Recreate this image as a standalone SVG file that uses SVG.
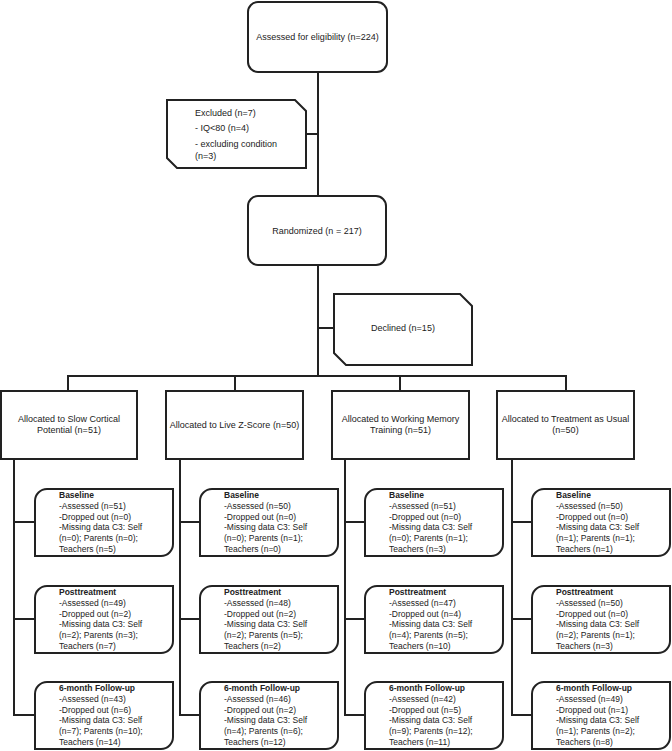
<svg xmlns="http://www.w3.org/2000/svg" xmlns:xlink="http://www.w3.org/1999/xlink" width="672" height="751" viewBox="0 0 672 751">
<style>
.box{fill:#fff;stroke:#222;stroke-width:2}
.ln{fill:none;stroke:#222;stroke-width:2}
.t{font-family:"Liberation Sans",Arial,sans-serif;font-size:9px;fill:#222}
.c{text-anchor:middle}
.s{font-family:"Liberation Sans",Arial,sans-serif;font-size:8.5px;fill:#222}
.b{font-weight:bold}
</style>
<defs>
<path id="sub" class="box" d="M12,0 H138 V55 A12,12 0 0 1 126,67 H0 V12 A12,12 0 0 1 12,0 Z"/>
</defs>
<rect width="672" height="751" fill="#fff"/>
<g id="connectors" class="ln">
<path d="M318,72 V196"/>
<path d="M306,134 H318"/>
<path d="M318,265 V376"/>
<path d="M318,328 H334"/>
<path d="M68,391 V376 H566 V391"/>
<path d="M235,376 V391"/>
<path d="M400,376 V391"/>
<path d="M14,459 V715 H35 M14,522 H35 M14,619 H35"/>
<path d="M180,459 V715 H200 M180,522 H200 M180,619 H200"/>
<path d="M345,459 V715 H365 M345,522 H365 M345,619 H365"/>
<path d="M512,459 V715 H532 M512,522 H532 M512,619 H532"/>
</g>
<g id="assessed">
<rect class="box" x="248" y="2" width="139" height="70" rx="10"/>
<text class="t c" x="317.5" y="40">Assessed for eligibility (n=224)</text>
</g>
<g id="excluded">
<path class="box" d="M167,100 H295 L306,111 V168 H177 L167,158 Z"/>
<text class="t" x="195" y="116">Excluded (n=7)</text>
<text class="t" x="195" y="131">- IQ&lt;80 (n=4)</text>
<text class="t" x="195" y="147">- excluding condition</text>
<text class="t" x="195" y="159">(n=3)</text>
</g>
<g id="randomized">
<rect class="box" x="248" y="196" width="138" height="69" rx="10"/>
<text class="t c" x="317" y="234">Randomized (n = 217)</text>
</g>
<g id="declined">
<path class="box" d="M334,294 H460 L472,306 V365 H346 L334,353 Z"/>
<text class="t c" x="403" y="331">Declined (n=15)</text>
</g>
<g id="alloc1">
<rect class="box" x="1" y="391" width="136" height="68"/>
<text class="t c" x="69" y="422">Allocated to Slow Cortical</text>
<text class="t c" x="69" y="433">Potential (n=51)</text>
</g>
<g id="alloc2">
<rect class="box" x="166" y="391" width="137" height="68"/>
<text class="t c" x="234.5" y="428">Allocated to Live Z-Score (n=50)</text>
</g>
<g id="alloc3">
<rect class="box" x="332" y="391" width="137" height="68"/>
<text class="t c" x="400.5" y="422">Allocated to Working Memory</text>
<text class="t c" x="400.5" y="433">Training (n=51)</text>
</g>
<g id="alloc4">
<rect class="box" x="497" y="391" width="137" height="68"/>
<text class="t c" x="565.5" y="422">Allocated to Treatment as Usual</text>
<text class="t c" x="565.5" y="433">(n=50)</text>
</g>

<g id="base1" transform="translate(35,489)">
<use xlink:href="#sub"/>
<text class="s" x="24" y="9"><tspan class="b">Baseline</tspan><tspan x="24" dy="10.8">-Assessed (n=51)</tspan><tspan x="24" dy="10.8">-Dropped out (n=0)</tspan><tspan x="24" dy="10.8">-Missing data C3: Self</tspan><tspan x="24" dy="10.8">(n=0); Parents (n=0);</tspan><tspan x="24" dy="10.8">Teachers (n=5)</tspan></text>
</g>
<g id="post1" transform="translate(35,586)">
<use xlink:href="#sub"/>
<text class="s" x="24" y="9"><tspan class="b">Posttreatment</tspan><tspan x="24" dy="10.8">-Assessed (n=49)</tspan><tspan x="24" dy="10.8">-Dropped out (n=2)</tspan><tspan x="24" dy="10.8">-Missing data C3: Self</tspan><tspan x="24" dy="10.8">(n=2); Parents (n=3);</tspan><tspan x="24" dy="10.8">Teachers (n=7)</tspan></text>
</g>
<g id="fu1" transform="translate(35,682)">
<use xlink:href="#sub"/>
<text class="s" x="24" y="9"><tspan class="b">6-month Follow-up</tspan><tspan x="24" dy="10.8">-Assessed (n=43)</tspan><tspan x="24" dy="10.8">-Dropped out (n=6)</tspan><tspan x="24" dy="10.8">-Missing data C3: Self</tspan><tspan x="24" dy="10.8">(n=7); Parents (n=10);</tspan><tspan x="24" dy="10.8">Teachers (n=14)</tspan></text>
</g>

<g id="base2" transform="translate(200,489)">
<use xlink:href="#sub"/>
<text class="s" x="24" y="9"><tspan class="b">Baseline</tspan><tspan x="24" dy="10.8">-Assessed (n=50)</tspan><tspan x="24" dy="10.8">-Dropped out (n=0)</tspan><tspan x="24" dy="10.8">-Missing data C3: Self</tspan><tspan x="24" dy="10.8">(n=0); Parents (n=1);</tspan><tspan x="24" dy="10.8">Teachers (n=0)</tspan></text>
</g>
<g id="post2" transform="translate(200,586)">
<use xlink:href="#sub"/>
<text class="s" x="24" y="9"><tspan class="b">Posttreatment</tspan><tspan x="24" dy="10.8">-Assessed (n=48)</tspan><tspan x="24" dy="10.8">-Dropped out (n=2)</tspan><tspan x="24" dy="10.8">-Missing data C3: Self</tspan><tspan x="24" dy="10.8">(n=2); Parents (n=5);</tspan><tspan x="24" dy="10.8">Teachers (n=2)</tspan></text>
</g>
<g id="fu2" transform="translate(200,682)">
<use xlink:href="#sub"/>
<text class="s" x="24" y="9"><tspan class="b">6-month Follow-up</tspan><tspan x="24" dy="10.8">-Assessed (n=46)</tspan><tspan x="24" dy="10.8">-Dropped out (n=2)</tspan><tspan x="24" dy="10.8">-Missing data C3: Self</tspan><tspan x="24" dy="10.8">(n=4); Parents (n=6);</tspan><tspan x="24" dy="10.8">Teachers (n=12)</tspan></text>
</g>

<g id="base3" transform="translate(365,489)">
<use xlink:href="#sub"/>
<text class="s" x="24" y="9"><tspan class="b">Baseline</tspan><tspan x="24" dy="10.8">-Assessed (n=51)</tspan><tspan x="24" dy="10.8">-Dropped out (n=0)</tspan><tspan x="24" dy="10.8">-Missing data C3: Self</tspan><tspan x="24" dy="10.8">(n=0); Parents (n=1);</tspan><tspan x="24" dy="10.8">Teachers (n=3)</tspan></text>
</g>
<g id="post3" transform="translate(365,586)">
<use xlink:href="#sub"/>
<text class="s" x="24" y="9"><tspan class="b">Posttreatment</tspan><tspan x="24" dy="10.8">-Assessed (n=47)</tspan><tspan x="24" dy="10.8">-Dropped out (n=4)</tspan><tspan x="24" dy="10.8">-Missing data C3: Self</tspan><tspan x="24" dy="10.8">(n=4); Parents (n=5);</tspan><tspan x="24" dy="10.8">Teachers (n=10)</tspan></text>
</g>
<g id="fu3" transform="translate(365,682)">
<use xlink:href="#sub"/>
<text class="s" x="24" y="9"><tspan class="b">6-month Follow-up</tspan><tspan x="24" dy="10.8">-Assessed (n=42)</tspan><tspan x="24" dy="10.8">-Dropped out (n=5)</tspan><tspan x="24" dy="10.8">-Missing data C3: Self</tspan><tspan x="24" dy="10.8">(n=9); Parents (n=12);</tspan><tspan x="24" dy="10.8">Teachers (n=11)</tspan></text>
</g>

<g id="base4" transform="translate(532,489)">
<use xlink:href="#sub"/>
<text class="s" x="24" y="9"><tspan class="b">Baseline</tspan><tspan x="24" dy="10.8">-Assessed (n=50)</tspan><tspan x="24" dy="10.8">-Dropped out (n=0)</tspan><tspan x="24" dy="10.8">-Missing data C3: Self</tspan><tspan x="24" dy="10.8">(n=1); Parents (n=1);</tspan><tspan x="24" dy="10.8">Teachers (n=1)</tspan></text>
</g>
<g id="post4" transform="translate(532,586)">
<use xlink:href="#sub"/>
<text class="s" x="24" y="9"><tspan class="b">Posttreatment</tspan><tspan x="24" dy="10.8">-Assessed (n=50)</tspan><tspan x="24" dy="10.8">-Dropped out (n=0)</tspan><tspan x="24" dy="10.8">-Missing data C3: Self</tspan><tspan x="24" dy="10.8">(n=2); Parents (n=1);</tspan><tspan x="24" dy="10.8">Teachers (n=3)</tspan></text>
</g>
<g id="fu4" transform="translate(532,682)">
<use xlink:href="#sub"/>
<text class="s" x="24" y="9"><tspan class="b">6-month Follow-up</tspan><tspan x="24" dy="10.8">-Assessed (n=49)</tspan><tspan x="24" dy="10.8">-Dropped out (n=1)</tspan><tspan x="24" dy="10.8">-Missing data C3: Self</tspan><tspan x="24" dy="10.8">(n=1); Parents (n=2);</tspan><tspan x="24" dy="10.8">Teachers (n=8)</tspan></text>
</g>
</svg>
